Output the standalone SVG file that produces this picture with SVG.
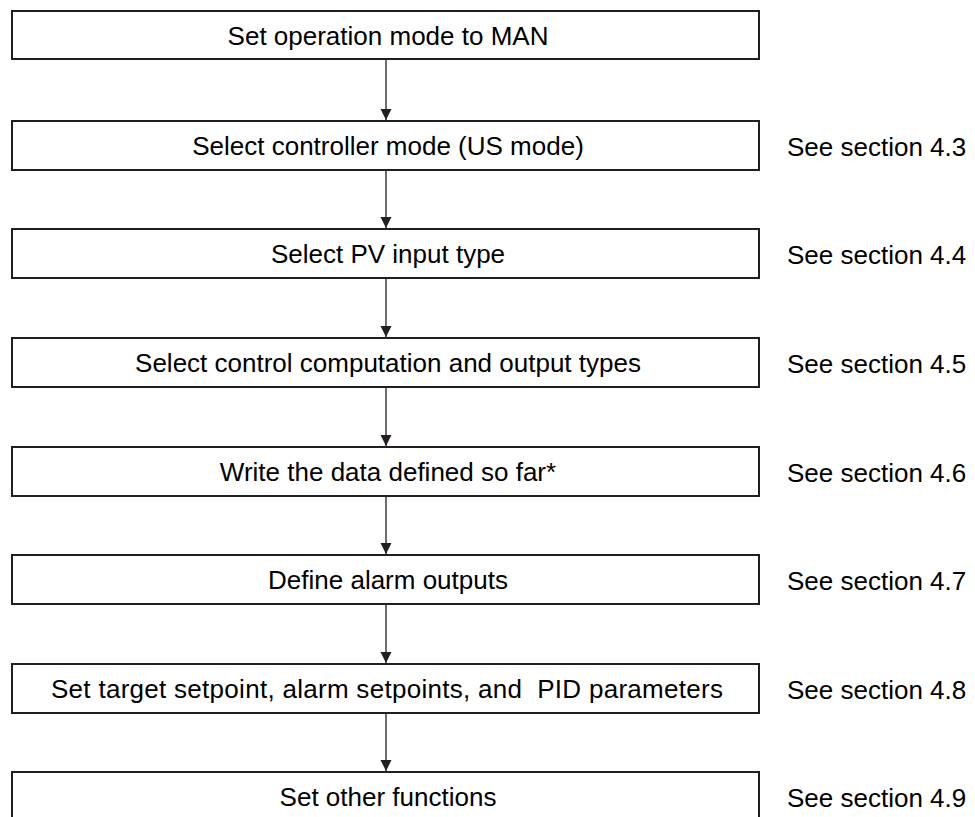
<svg xmlns="http://www.w3.org/2000/svg" width="975" height="817" viewBox="0 0 975 817">
<style>
.box{fill:#fff;stroke:#231f20;stroke-width:2}
.t{font-family:"Liberation Sans",Arial,sans-serif;font-size:26px;fill:#000;white-space:pre}
.c{text-anchor:middle}
.arr{stroke:#231f20;stroke-width:1.3;fill:none;marker-end:url(#ah)}
</style>
<defs>
<marker id="ah" markerUnits="userSpaceOnUse" markerWidth="12" markerHeight="12" refX="11" refY="6" orient="auto">
<path d="M0,0.5 L11,6 L0,11.5 z" fill="#231f20"/>
</marker>
</defs>
<rect width="975" height="817" fill="#fff"/>
<g id="connectors">
<line class="arr" x1="386" y1="60" x2="386" y2="120"/>
<line class="arr" x1="386" y1="170" x2="386" y2="228"/>
<line class="arr" x1="386" y1="278" x2="386" y2="337"/>
<line class="arr" x1="386" y1="387" x2="386" y2="446"/>
<line class="arr" x1="386" y1="496" x2="386" y2="554"/>
<line class="arr" x1="386" y1="604" x2="386" y2="663"/>
<line class="arr" x1="386" y1="713" x2="386" y2="771"/>
</g>
<g id="n1"><rect class="box" x="12" y="11" width="747" height="48"/><text class="t c" x="388" y="44.5">Set operation mode to MAN</text></g>
<g id="n2"><rect class="box" x="12" y="121" width="747" height="49"/><text class="t c" x="388" y="155">Select controller mode (US mode)</text><text class="t" x="787" y="155.5">See section 4.3</text></g>
<g id="n3"><rect class="box" x="12" y="229" width="747" height="49"/><text class="t c" x="388" y="263">Select PV input type</text><text class="t" x="787" y="263.5">See section 4.4</text></g>
<g id="n4"><rect class="box" x="12" y="338" width="747" height="49"/><text class="t c" x="388" y="372">Select control computation and output types</text><text class="t" x="787" y="372.5">See section 4.5</text></g>
<g id="n5"><rect class="box" x="12" y="447" width="747" height="49"/><text class="t c" x="388" y="481">Write the data defined so far*</text><text class="t" x="787" y="481.5">See section 4.6</text></g>
<g id="n6"><rect class="box" x="12" y="555" width="747" height="49"/><text class="t c" x="388" y="589">Define alarm outputs</text><text class="t" x="787" y="589.5">See section 4.7</text></g>
<g id="n7"><rect class="box" x="12" y="664" width="747" height="49"/><text class="t c" x="387" y="698" textLength="672" lengthAdjust="spacing">Set target setpoint, alarm setpoints, and  PID parameters</text><text class="t" x="787" y="698.5">See section 4.8</text></g>
<g id="n8"><rect class="box" x="12" y="772" width="747" height="60"/><text class="t c" x="388" y="806">Set other functions</text><text class="t" x="787" y="806.5">See section 4.9</text></g>
</svg>
